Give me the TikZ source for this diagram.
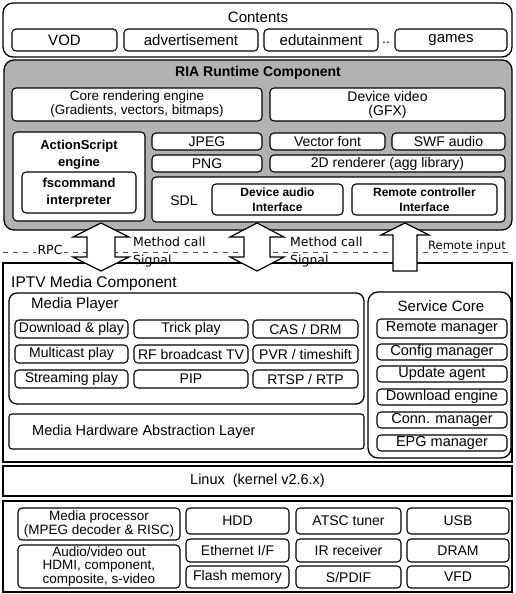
\documentclass[tikz,border=0pt]{standalone}
\usepackage{fontspec}
\setmainfont{Liberation Sans}
\newfontfamily\arrfont{DejaVu Sans}
\usetikzlibrary{calc}
\newcommand\fsz[1]{\fontsize{#1}{#1}\selectfont}
\newcommand\bx[7][]{\node[box,minimum width={(#5)-(#3)},minimum height={(#6)-(#4)},#1] (#2) at ({((#3)+(#5))/2},{((#4)+(#6))/2}) {#7};}
\newcommand\dblarrow[3]{% x centre, wing half width, shaft half width
  \draw[blockarrow] (#1,223) -- (#1+#2,237) -- (#1+#3,237) -- (#1+#3,257) -- (#1+#2,257) -- (#1,271)
    -- (#1-#2,257) -- (#1-#3,257) -- (#1-#3,237) -- (#1-#2,237) -- cycle;}
\tikzset{
 box/.style={draw=black,line width=1.1pt,rounded corners=4pt,fill=white,inner sep=0pt,align=center,font=\fsz{14}},
 frame/.style={box,rounded corners=10pt,line width=1.3pt},
 sharpframe/.style={box,sharp corners,line width=1.4pt},
 title/.style={inner sep=0pt,font=\fsz{15}},
 lbl/.style={inner sep=0pt,font=\arrfont\fsz{12.5}},
 blockarrow/.style={draw=black,line width=1.2pt,fill=white,line join=miter},
 rpcline/.style={draw=black!70,line width=0.6pt,dash pattern=on 5pt off 5pt},
 bsmall/.style={font={\bfseries\fontsize{12}{15}\selectfont}},
 hw/.style={font={\fontsize{13.5}{12.5}\selectfont}},
}
\begin{document}
\begin{tikzpicture}[x=1pt,y=-1pt]
\useasboundingbox (0,0) rectangle (515,594);
% ---------------- Contents
\bx[frame]{contents}{3}{3}{512}{57}{}
\node[title] (contentsT) at (258,17) {Contents};
\bx[font=\fsz{15}]{vod}{12}{29}{117}{51}{VOD}
\bx[font=\fsz{15}]{adv}{124}{29}{258}{51}{advertisement}
\bx[font=\fsz{15}]{edu}{264}{29}{378}{51}{edutainment}
\node[inner sep=0pt,font=\fsz{14}] (dots) at (386,43) {..};
\bx[font=\fsz{15}]{games}{395}{29}{507}{51}{games}
% ---------------- RIA
\bx[frame,fill=black!30]{ria}{4}{60}{512}{230}{}
\node[title,font=\bfseries\fsz{14}] (riaT) at (258,73) {RIA Runtime Component};
\bx[font={\fontsize{13.5}{14}\selectfont}]{core}{12}{88}{262}{121}{Core rendering engine\\(Gradients, vectors, bitmaps)}
\bx[font={\fontsize{14}{14}\selectfont}]{gfx}{270}{88}{505}{121}{Device video\\(GFX)}
\bx{as}{13}{132}{145}{221}{}
\node[inner sep=0pt,align=center,font={\bfseries\fontsize{13}{17}\selectfont}] (asT) at (79,155) {ActionScript\\engine};
\bx[font={\bfseries\fontsize{13}{17}\selectfont}]{fsc}{22}{172}{136}{213}{fscommand\\interpreter}
\bx{jpeg}{152}{133}{262}{150}{JPEG}
\bx{vfont}{270}{133}{385}{150}{Vector font}
\bx{swf}{392}{133}{505}{150}{SWF audio}
\bx{png}{152}{155}{262}{172}{PNG}
\bx{agg}{270}{155}{505}{172}{2D renderer (agg library)}
\bx{sdl}{152}{177}{505}{222}{}
\node[inner sep=0pt,font=\fsz{14}] (sdlT) at (184,201) {SDL};
\bx[bsmall]{daud}{212}{184}{343}{215}{Device audio\\Interface}
\bx[bsmall]{rci}{352}{184}{497}{215}{Remote controller\\Interface}
% ---------------- IPTV
\bx[sharpframe]{iptv}{3}{263}{512}{462}{}
\node[title,anchor=west,font=\fsz{15.5}] (iptvT) at (11,283) {IPTV Media Component};
\bx[frame,rounded corners=8pt]{mp}{9}{293}{364}{404}{}
\node[title,anchor=west] (mpT) at (31,305) {Media Player};
\bx{dlp}{15}{320}{128}{338}{Download \& play}
\bx{trick}{134}{320}{248}{338}{Trick play}
\bx{cas}{253}{320}{358}{338}{CAS / DRM}
\bx{mcast}{15}{345}{128}{363}{Multicast play}
\bx{rf}{134}{345}{248}{363}{RF broadcast TV}
\bx{pvr}{253}{345}{358}{363}{PVR / timeshift}
\bx{stream}{15}{370}{128}{388}{Streaming play}
\bx{pip}{134}{370}{248}{388}{PIP}
\bx{rtsp}{253}{370}{358}{388}{RTSP / RTP}
\bx[rounded corners=3pt]{hal}{9}{414}{364}{449}{}
\node[inner sep=0pt,anchor=west,font=\fsz{14.5}] (halT) at (32,432) {Media Hardware Abstraction Layer};
\bx[frame]{sc}{368}{292}{511}{458}{}
\node[title] (scT) at (441,306) {Service Core};
\bx[font=\fsz{14.5}]{remm}{377}{319}{507}{338}{Remote manager}
\bx[font=\fsz{14.5}]{cfg}{377}{344}{507}{360}{Config manager}
\bx[font=\fsz{14.5}]{upd}{377}{366}{507}{382}{Update agent}
\bx[font=\fsz{14.5}]{dle}{377}{389}{507}{405}{Download engine}
\bx[font=\fsz{14.5}]{conn}{377}{412}{507}{428}{Conn. manager}
\bx[font=\fsz{14.5}]{epg}{377}{435}{507}{451}{EPG manager}
% ---------------- interfaces between RIA and IPTV
\draw[rpcline] (3,252) -- (512,252);
\dblarrow{101}{28}{14}
\dblarrow{257}{27}{13}
\draw[blockarrow] (405,223) -- (429,235) -- (417,235) -- (417,271) -- (393,271) -- (393,235) -- (381,235) -- cycle;
\node[lbl,fill=white,inner xsep=2pt] (rpc) at (50,250) {RPC};
\node[lbl,anchor=west] (mc1) at (133,242) {Method call};
\node[lbl,anchor=west] (sg1) at (133,261) {Signal};
\node[lbl,anchor=west] (mc2) at (290,242) {Method call};
\node[lbl,anchor=west] (sg2) at (290,261) {Signal};
\node[lbl,anchor=west,font=\arrfont\fsz{11.5}] (rin) at (428,246) {Remote input};
% ---------------- Linux
\bx[sharpframe,font=\fsz{14.5}]{linux}{3}{466}{512}{496}{Linux\ \ (kernel v2.6.x)}
% ---------------- Hardware
\bx[sharpframe]{hwbox}{3}{501}{512}{592}{}
\bx[hw]{mproc}{18}{508}{180}{540}{Media processor\\(MPEG decoder \& RISC)}
\bx[hw]{avout}{18}{545}{180}{588}{Audio/video out\\HDMI, component,\\composite, s-video}
\bx{hdd}{186}{508}{289}{534}{HDD}
\bx{atsc}{296}{508}{401}{534}{ATSC tuner}
\bx{usb}{407}{508}{509}{534}{USB}
\bx{eth}{186}{539}{289}{562}{Ethernet I/F}
\bx{ir}{296}{539}{401}{562}{IR receiver}
\bx{dram}{407}{539}{509}{562}{DRAM}
\bx{flash}{186}{566}{289}{588}{Flash memory}
\bx{spdif}{296}{566}{401}{588}{S/PDIF}
\bx{vfd}{407}{566}{509}{588}{VFD}
\end{tikzpicture}
\end{document}
